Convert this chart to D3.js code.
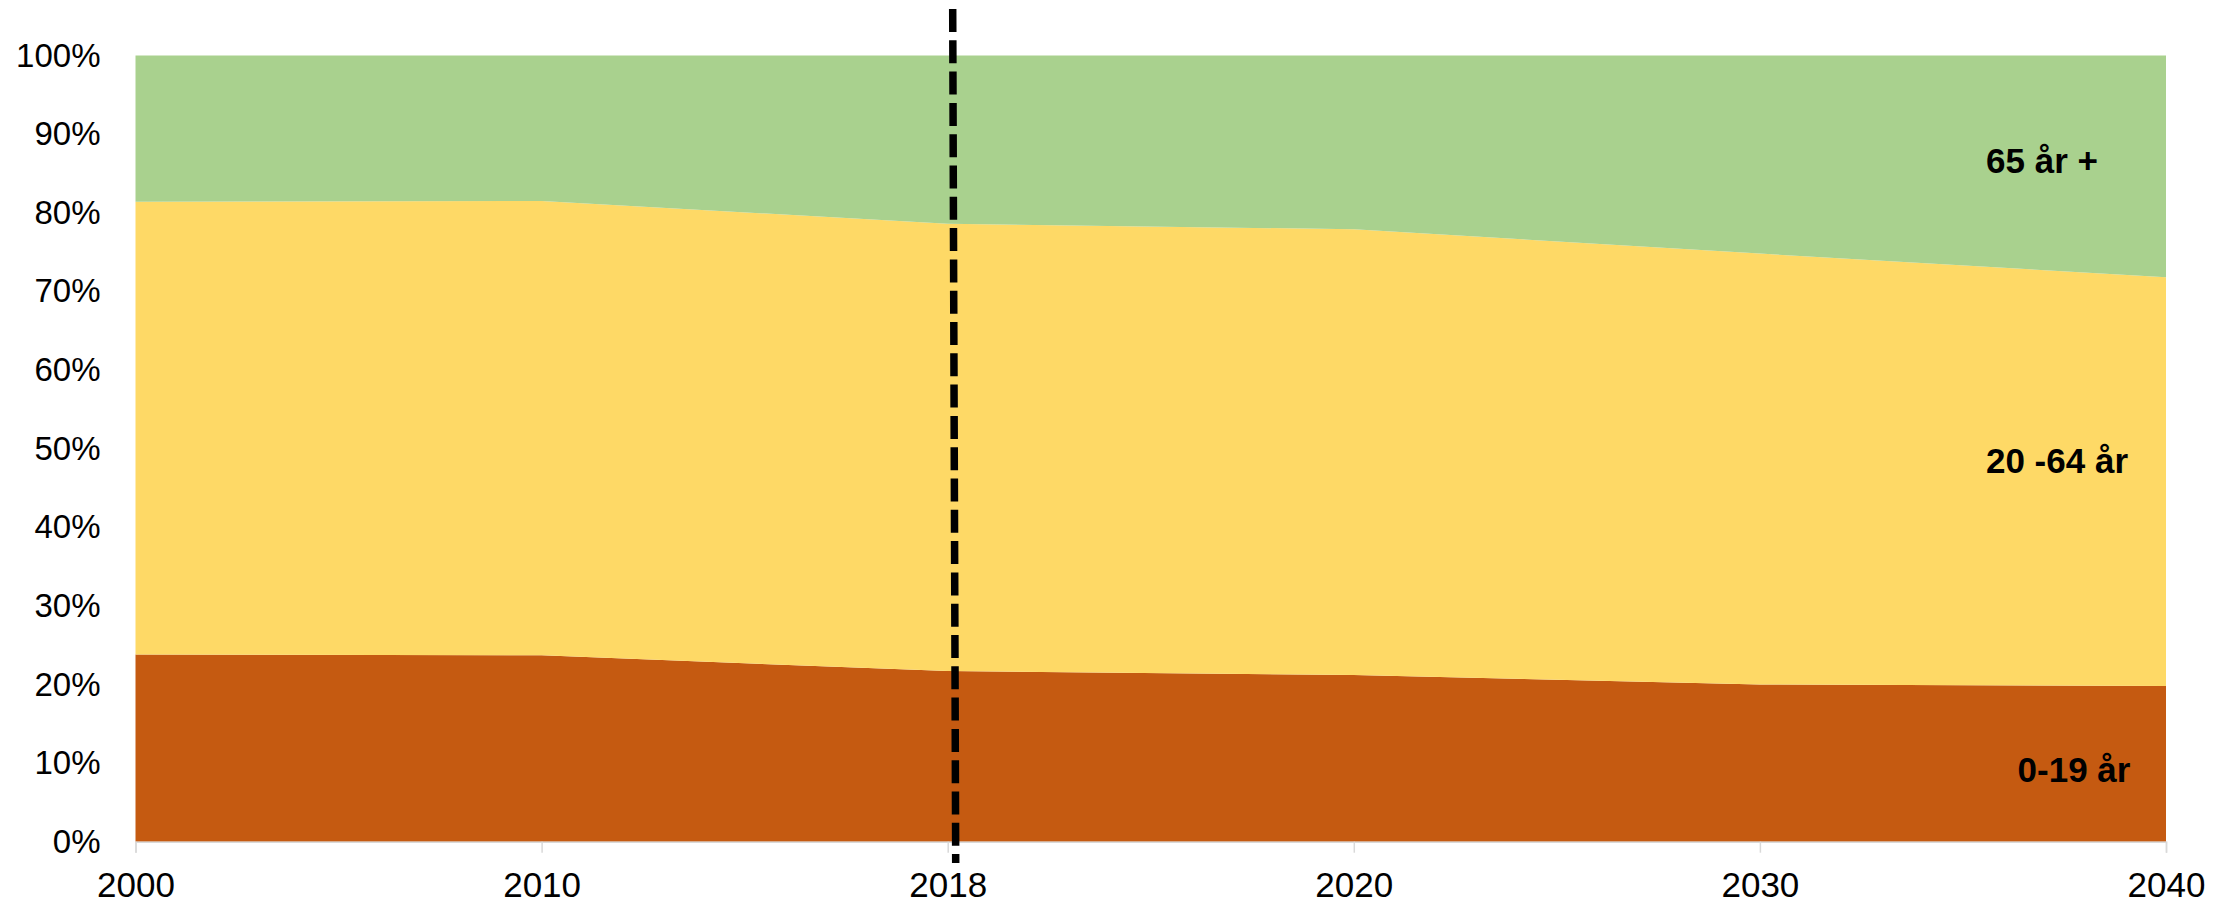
<!DOCTYPE html>
<html>
<head>
<meta charset="utf-8">
<script src="https://cdn.jsdelivr.net/npm/d3@7"></script>
<style>
  html, body { margin: 0; padding: 0; background: #fff; }
  svg { display: block; }
  text { font-family: "Liberation Sans", Arial, sans-serif; }
</style>
</head>
<body>
<script>
// ---- data (percent shares) ----
const years = ["2000", "2010", "2018", "2020", "2030", "2040"];
const age0to19 = [23.8, 23.7, 21.7, 21.2, 20.0, 19.8];
const age20to64 = [57.6, 57.8, 56.9, 56.7, 54.8, 52.0];
const age65plus = [18.6, 18.5, 21.4, 22.1, 25.2, 28.2];
const seriesNames = ["0-19 år", "20 -64 år", "65 år +"];
const seriesColors = ["#C55A11", "#FED966", "#A9D18E"];
const yTicks = [0, 10, 20, 30, 40, 50, 60, 70, 80, 90, 100];
const markerYear = "2018";

const W = 2236, H = 907;
const margin = { left: 135.5, right: 70, top: 55.5, bottom: 65.3 };

const svg = d3.select("body").append("svg").attr("width", W).attr("height", H);

const x = d3.scalePoint().domain(years).range([margin.left, W - margin.right]);
const y = d3.scaleLinear().domain([0, 100]).range([H - margin.bottom, margin.top]);

const table = years.map((yr, i) => ({
  year: yr,
  [seriesNames[0]]: age0to19[i],
  [seriesNames[1]]: age20to64[i],
  [seriesNames[2]]: age65plus[i]
}));

const stack = d3.stack().keys(seriesNames)
  .offset(d3.stackOffsetExpand);
const stacked = stack(table);

const area = d3.area()
  .x(d => x(d.data.year))
  .y0(d => y(d[0] * 100))
  .y1(d => y(d[1] * 100));

svg.append("g").selectAll("path")
  .data(stacked)
  .join("path")
  .attr("d", area)
  .attr("fill", (d, i) => seriesColors[i]);

// x axis
const xAxis = svg.append("g")
  .attr("transform", `translate(0,${y(0)})`)
  .call(d3.axisBottom(x).tickSize(11).tickPadding(19));
xAxis.select(".domain").attr("stroke", "#D9D9D9").attr("stroke-width", 1.5);
xAxis.selectAll(".tick line").attr("stroke", "#D9D9D9").attr("stroke-width", 1.5);
xAxis.selectAll(".tick text")
  .attr("fill", "#000")
  .style("font-size", "35px")
  .style("font-family", "'Liberation Sans', Arial, sans-serif");

// y axis (labels only)
const yAxis = svg.append("g")
  .attr("transform", `translate(${margin.left},0)`)
  .call(d3.axisLeft(y).tickValues(yTicks).tickFormat(d => d + "%").tickSize(0).tickPadding(35));
yAxis.select(".domain").remove();
yAxis.selectAll(".tick text")
  .attr("fill", "#000")
  .style("font-size", "33px")
  .style("font-family", "'Liberation Sans', Arial, sans-serif");

// dashed marker line at 2018
svg.append("line")
  .attr("x1", x(markerYear) + 5)
  .attr("x2", x(markerYear) + 8)
  .attr("y1", 9)
  .attr("y2", 863)
  .attr("stroke", "#000")
  .attr("stroke-width", 7.5)
  .attr("stroke-dasharray", "23 8.3");

// series labels
const labelData = [
  { name: seriesNames[2], x: 2042, y: 160 },
  { name: seriesNames[1], x: 2057, y: 460 },
  { name: seriesNames[0], x: 2074, y: 769 }
];
svg.append("g").selectAll("text")
  .data(labelData)
  .join("text")
  .attr("x", d => d.x)
  .attr("y", d => d.y)
  .attr("text-anchor", "middle")
  .attr("dominant-baseline", "central")
  .style("font-size", "35px")
  .style("font-weight", "bold")
  .attr("fill", "#000")
  .text(d => d.name);
</script>
</body>
</html>
